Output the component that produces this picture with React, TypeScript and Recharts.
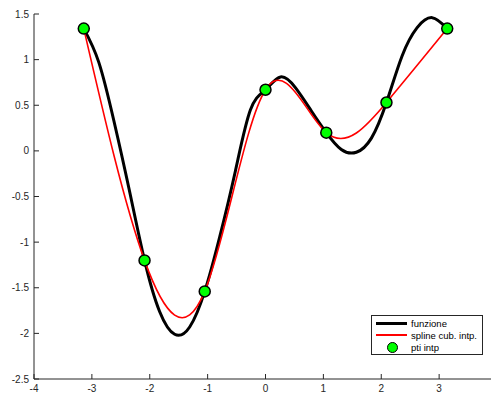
import { LineChart, Line, XAxis, YAxis } from 'recharts';

// curva "funzione" (passo costante)
const xFunz = [-3.14, -2.88, -2.62, -2.36, -2.09, -1.83, -1.57, -1.31, -1.05, -0.79, -0.52, -0.26, 0, 0.26, 0.52, 0.79, 1.05, 1.31, 1.57, 1.83, 2.09, 2.36, 2.62, 2.88, 3.14];
const yFunz = [1.34, 0.97, 0.33, -0.41, -1.2, -1.76, -2.01, -1.93, -1.54, -0.94, -0.22, 0.45, 0.67, 0.81, 0.69, 0.44, 0.2, 0.015, -0.015, 0.14, 0.53, 1.04, 1.35, 1.46, 1.34];

// punti di interpolazione
const xPts = [-3.14, -2.09, -1.05, 0, 1.05, 2.09, 3.14];
const yPts = [1.34, -1.2, -1.54, 0.67, 0.2, 0.53, 1.34];

const xTicks = [-4, -3, -2, -1, 0, 1, 2, 3];
const yTicks = [-2.5, -2, -1.5, -1, -0.5, 0, 0.5, 1, 1.5];

const funzData = xFunz.map((x, i) => ({ x, y: yFunz[i] }));
const ptsData = xPts.map((x, i) => ({ x, y: yPts[i] }));

const axisColor = '#262626';
const font = 'Liberation Sans, Arial, sans-serif';

export default function App() {
  return (
    <div style={{ position: 'absolute', left: 0, top: 0, width: 491, height: 396, overflow: 'hidden', background: '#fff' }}>
      <LineChart width={497} height={396} margin={{ top: 14, right: 0, left: 4, bottom: 0 }}>
        <XAxis
          xAxisId='bottom'
          type='number'
          dataKey='x'
          domain={[-4, 4]}
          ticks={xTicks}
          allowDataOverflow
          height={17}
          stroke={axisColor}
          tickSize={-5}
          tickMargin={11}
          tick={{ fontSize: 10, fill: axisColor, fontFamily: font }}
        />
        <XAxis
          xAxisId='top'
          orientation='top'
          type='number'
          dataKey='x'
          domain={[-4, 4]}
          ticks={xTicks}
          allowDataOverflow
          height={0}
          stroke={axisColor}
          tickSize={-5}
          tick={false}
        />
        <YAxis
          type='number'
          domain={[-2.5, 1.5]}
          ticks={yTicks}
          allowDataOverflow
          width={30}
          stroke={axisColor}
          tickSize={-5}
          tickMargin={10}
          tick={{ fontSize: 10, fill: axisColor, fontFamily: font }}
        />
        <Line
          xAxisId='bottom'
          data={funzData}
          dataKey='y'
          type='natural'
          stroke='#000'
          strokeWidth={3}
          dot={false}
          isAnimationActive={false}
        />
        <Line
          xAxisId='bottom'
          data={ptsData}
          dataKey='y'
          type='natural'
          stroke='#ff0000'
          strokeWidth={1.6}
          dot={false}
          isAnimationActive={false}
        />
        <Line
          xAxisId='bottom'
          data={ptsData}
          dataKey='y'
          stroke='none'
          dot={{ r: 5.5, fill: '#00ff00', stroke: '#000', strokeWidth: 1.5 }}
          isAnimationActive={false}
        />
      </LineChart>
      <div style={{ position: 'absolute', left: 371, top: 315, width: 112, height: 40, border: '1px solid #262626', boxSizing: 'border-box', background: '#fff', fontFamily: font, fontSize: 9.5, color: '#000' }}>
        <div style={{ position: 'absolute', left: 4, top: 6, width: 31, height: 3, background: '#000' }} />
        <div style={{ position: 'absolute', left: 39, top: 2, lineHeight: '11px' }}>funzione</div>
        <div style={{ position: 'absolute', left: 4, top: 18, width: 31, height: 2, background: '#ff0000' }} />
        <div style={{ position: 'absolute', left: 39, top: 14, lineHeight: '11px' }}>spline cub. intp.</div>
        <div style={{ position: 'absolute', left: 15, top: 26, width: 11, height: 11, borderRadius: '50%', background: '#00ff00', border: '1.5px solid #000', boxSizing: 'border-box' }} />
        <div style={{ position: 'absolute', left: 39, top: 26, lineHeight: '11px' }}>pti intp</div>
      </div>
    </div>
  );
}
